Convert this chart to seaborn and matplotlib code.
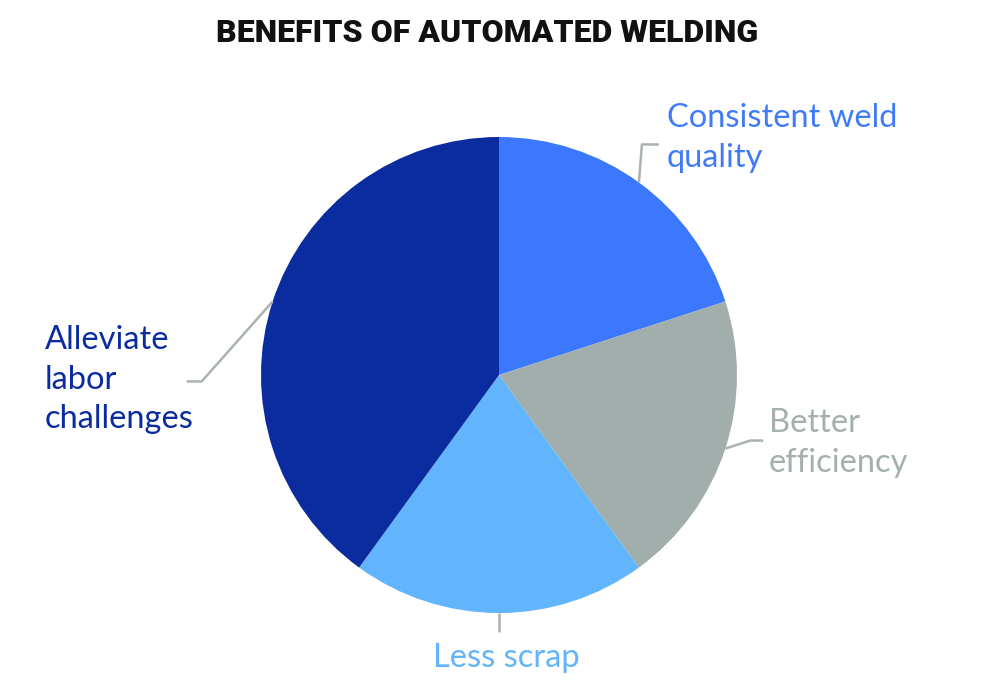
import numpy as np
import matplotlib
matplotlib.use("Agg")
import matplotlib.pyplot as plt
import seaborn as sns

# data
labels = ["Consistent weld\nquality", "Better\nefficiency", "Less scrap", "Alleviate\nlabor\nchallenges"]
shares = [20, 20, 20, 40]
slice_colors = ["#3b78fd", "#a2aeac", "#62b4fc", "#0b2c9f"]
text_colors = ["#3f7bf8", "#a3b0ae", "#62b4fc", "#0b2c9f"]

sns.set_theme(style="white")
plt.rcParams["font.family"] = ["Lato", "DejaVu Sans"]

fig = plt.figure(figsize=(10, 6.83), dpi=100)
ax = fig.add_axes([0, 0, 1, 1])

cx, cy, r = 499, 683 - 375, 238
wedges, _ = ax.pie(shares, colors=slice_colors, startangle=90, counterclock=False,
                   center=(cx, cy), radius=r, frame=True,
                   wedgeprops=dict(linewidth=0))
ax.set_xlim(0, 1000)
ax.set_ylim(0, 683)
ax.set_aspect("equal")
ax.axis("off")

# leader line elbows (dx, dy from edge point) and text anchors (top of block)
elbows = [[(3, 38), (20, 38)],
          [(25, 8), (38, 8)],
          [(0, -19), (0, -19)],
          [(-71, -80), (-86, -80)]]
text_pos = [(667, 683 - 103, "left"), (769, 683 - 408, "left"),
            (506, 683 - 643, "center"), (45, 683 - 325, "left")]

for w, el, (tx, ty, ha), lab, tc in zip(wedges, elbows, text_pos, labels, text_colors):
    mid = np.deg2rad((w.theta1 + w.theta2) / 2)
    x0 = cx + r * np.cos(mid)
    y0 = cy + r * np.sin(mid)
    xs = [x0] + [x0 + d[0] for d in el]
    ys = [y0] + [y0 + d[1] for d in el]
    ax.plot(xs, ys, color="#a9b3b1", lw=1.8, solid_capstyle="butt")
    ax.text(tx, ty, lab, color=tc, fontsize=23.5, ha=ha, va="top",
            linespacing=1.4)

fig.text(0.4875, 1 - 33 / 683, "BENEFITS OF AUTOMATED WELDING",
         family=["Roboto", "DejaVu Sans"], fontweight="black",
         fontsize=23, ha="center", va="center", color="#111111")

fig.savefig("out.png", dpi=100, facecolor="white")
